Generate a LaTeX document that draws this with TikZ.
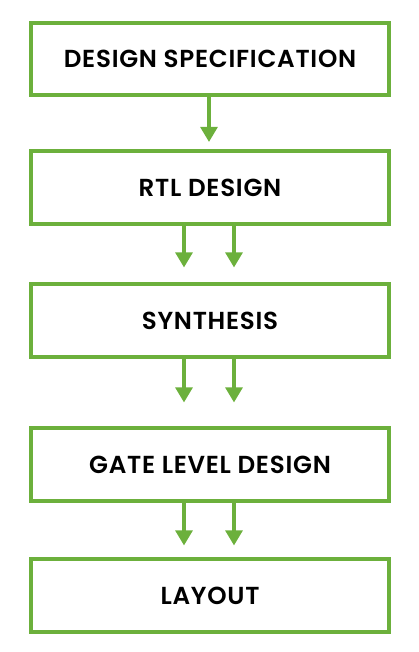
\documentclass[tikz,border=0pt]{standalone}
\usepackage{fontspec}
\setmainfont{Poppins}[BoldFont={Poppins SemiBold}, LetterSpace=3]
\usepackage{xcolor}
\usetikzlibrary{positioning,calc,arrows.meta}

\definecolor{flowgreen}{RGB}{108,176,60}

\begin{document}
\begin{tikzpicture}[
        x=0.025cm, y=-0.025cm,
        % box style: green frame, black caps text
        stagebox/.style={
            rectangle,
            draw=flowgreen,
            fill=white,
            line width=0.1cm,
            minimum width=8.95cm,
            minimum height=1.8cm,
            inner sep=0pt,
            font=\bfseries\fontsize{17.5}{19}\selectfont
        },
        % arrow style
        flow/.style={
            draw=flowgreen,
            line width=0.1cm,
            -{Triangle[width=0.42cm,length=0.38cm]}
        }
    ]

        \useasboundingbox (0,0) rectangle (419,652);

        % --- BOXES ---
        \node[stagebox] (spec) at (210,59)    {DESIGN SPECIFICATION};
        \node[stagebox] (rtl)  at (210,187.5) {RTL DESIGN};
        \node[stagebox] (syn)  at (210,320.5) {SYNTHESIS};
        \node[stagebox] (gate) at (210,464.5) {GATE LEVEL DESIGN};
        \node[stagebox] (lay)  at (210,595.5) {LAYOUT};

        % --- ARROW ENDS ---
        \coordinate (s1) at ($(spec.south)+(-1,45)$);
        \coordinate (r1) at ($(rtl.south)+(-26,42)$);
        \coordinate (r2) at ($(rtl.south)+(24,42)$);
        \coordinate (y1) at ($(syn.south)+(-26,44)$);
        \coordinate (y2) at ($(syn.south)+(24,44)$);
        \coordinate (g1) at ($(gate.south)+(-26,43)$);
        \coordinate (g2) at ($(gate.south)+(24,43)$);

        % --- ARROWS ---
        \draw[flow] (spec.south -| s1) -- (s1);
        \draw[flow] (rtl.south -| r1) -- (r1);
        \draw[flow] (rtl.south -| r2) -- (r2);
        \draw[flow] (syn.south -| y1) -- (y1);
        \draw[flow] (syn.south -| y2) -- (y2);
        \draw[flow] (gate.south -| g1) -- (g1);
        \draw[flow] (gate.south -| g2) -- (g2);

    \end{tikzpicture}
\end{document}
